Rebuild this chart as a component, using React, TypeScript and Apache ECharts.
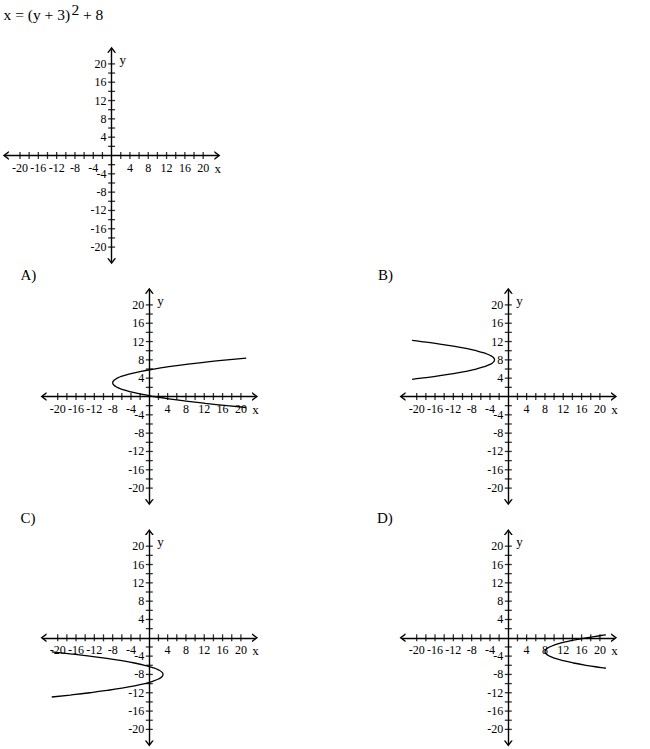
import { useEffect, useRef } from "react";
import * as echarts from "echarts";

// ---- data ----
const tickValues = [-20, -18, -16, -14, -12, -10, -8, -6, -4, -2, 2, 4, 6, 8, 10, 12, 14, 16, 18, 20];
const labelValues = [-20, -16, -12, -8, -4, 4, 8, 12, 16, 20];
const titleMain = "x = (y + 3)";
const titleExp = "2";
const titleTail = " + 8";
const choiceLetters = ["A)", "B)", "C)", "D)"];

// [x, y] points
const curveA: [number, number][] = [
  [21.16, -2.4], [17, -2], [12.25, -1.5], [8, -1], [4.25, -0.5], [1, 0], [-1.75, 0.5], [-4, 1],
  [-5.75, 1.5], [-7, 2], [-7.75, 2.5], [-8, 3], [-7.75, 3.5], [-7, 4], [-5.75, 4.5], [-4, 5],
  [-1.75, 5.5], [1, 6], [4.25, 6.5], [8, 7], [12.25, 7.5], [17, 8], [21.16, 8.4],
];
const curveB: [number, number][] = [
  [-21, 3.76], [-19, 4], [-15.25, 4.5], [-12, 5], [-9.25, 5.5], [-7, 6], [-5.25, 6.5], [-4, 7],
  [-3.25, 7.5], [-3, 8], [-3.25, 8.5], [-4, 9], [-5.25, 9.5], [-7, 10], [-9.25, 10.5], [-12, 11],
  [-15.25, 11.5], [-19, 12], [-21, 12.24],
];
const curveC: [number, number][] = [
  [-21.3, -3.07], [-17.25, -3.5], [-13, -4], [-9.25, -4.5], [-6, -5], [-3.25, -5.5], [-1, -6],
  [0.75, -6.5], [2, -7], [2.75, -7.5], [3, -8], [2.75, -8.5], [2, -9], [0.75, -9.5], [-1, -10],
  [-3.25, -10.5], [-6, -11], [-9.25, -11.5], [-13, -12], [-17.25, -12.5], [-21.3, -12.93],
];
const curveD: [number, number][] = [
  [21.3, 0.65], [20.25, 0.5], [17, 0], [14.25, -0.5], [12, -1], [10.25, -1.5], [9, -2], [8.25, -2.5],
  [8, -3], [8.25, -3.5], [9, -4], [10.25, -4.5], [12, -5], [14.25, -5.5], [17, -6], [20.25, -6.5],
  [21.3, -6.65],
];

// ---- layout ----
const UNIT = 4.58;
const LIM = 23.1;
const HALF = LIM * UNIT;
const FONT = "'Liberation Serif', 'Times New Roman', serif";

const panels = [
  { ox: 111.6, oy: 155.5, curve: null as null | [number, number][], label: null as null | string, lx: 0, ly: 0 },
  { ox: 149.3, oy: 396.5, curve: curveA, label: choiceLetters[0], lx: 20.5, ly: 275 },
  { ox: 508.3, oy: 396.5, curve: curveB, label: choiceLetters[1], lx: 378, ly: 275 },
  { ox: 149.3, oy: 637.8, curve: curveC, label: choiceLetters[2], lx: 20.5, ly: 517.5 },
  { ox: 508.3, oy: 637.8, curve: curveD, label: choiceLetters[3], lx: 377, ly: 517.5 },
];

const ARROW = "path://M0,6 L4.5,0 L9,6 L7.3,6 L4.5,2.3 L1.7,6 Z";

export default function App() {
  const ref = useRef<HTMLDivElement>(null);
  useEffect(() => {
    if (!ref.current) return;
    const chart = echarts.init(ref.current, undefined, { renderer: "svg" });

    const grid: any[] = [];
    const xAxis: any[] = [];
    const yAxis: any[] = [];
    const series: any[] = [];
    const graphic: any[] = [];

    const axisCommon = (idx: number) => ({
      gridIndex: idx,
      type: "value",
      min: -LIM,
      max: LIM,
      offset: -HALF,
      axisLine: {
        show: true,
        onZero: false,
        symbol: [ARROW, ARROW],
        symbolSize: [9, 6],
        lineStyle: { color: "#000", width: 1.4 },
      },
      axisTick: { show: false },
      splitLine: { show: false },
      axisLabel: {
        customValues: labelValues,
        color: "#000",
        fontFamily: FONT,
        fontSize: 12,
      },
    });

    panels.forEach((p, i) => {
      grid.push({ left: p.ox - HALF, top: p.oy - HALF, width: 2 * HALF, height: 2 * HALF, containLabel: false });
      const xa: any = axisCommon(i);
      xa.position = "bottom";
      xa.axisLabel.margin = 6;
      xAxis.push(xa);
      const ya: any = axisCommon(i);
      ya.position = "left";
      ya.axisLabel.margin = 5;
      yAxis.push(ya);

      series.push({
        type: "scatter",
        xAxisIndex: i,
        yAxisIndex: i,
        symbol: "rect",
        symbolSize: [1.3, 7],
        itemStyle: { color: "#000" },
        silent: true,
        z: 3,
        data: tickValues.map((v) => [v, 0]),
      });
      series.push({
        type: "scatter",
        xAxisIndex: i,
        yAxisIndex: i,
        symbol: "rect",
        symbolSize: [7, 1.3],
        itemStyle: { color: "#000" },
        silent: true,
        z: 3,
        data: tickValues.map((v) => [0, v]),
      });
      if (p.curve) {
        series.push({
          type: "line",
          xAxisIndex: i,
          yAxisIndex: i,
          data: p.curve,
          smooth: true,
          showSymbol: false,
          clip: false,
          silent: true,
          z: 4,
          lineStyle: { color: "#000", width: 1.3 },
        });
      }

      graphic.push({
        type: "text",
        x: p.ox + 103,
        y: p.oy + 13,
        style: { text: "x", fill: "#000", font: `13px ${FONT}`, verticalAlign: "middle", align: "left" },
      });
      graphic.push({
        type: "text",
        x: p.ox + 8,
        y: p.oy - 96,
        style: { text: "y", fill: "#000", font: `13px ${FONT}`, verticalAlign: "middle", align: "left" },
      });
      if (p.label) {
        graphic.push({
          type: "text",
          x: p.lx,
          y: p.ly,
          style: { text: p.label, fill: "#000", font: `15px ${FONT}`, verticalAlign: "middle", align: "left" },
        });
      }
    });

    graphic.push({
      type: "text",
      x: 3.5,
      y: 14.5,
      style: { text: titleMain, fill: "#000", font: `15.5px ${FONT}`, verticalAlign: "middle", align: "left" },
    });
    graphic.push({
      type: "text",
      x: 71.5,
      y: 9.5,
      style: { text: titleExp, fill: "#000", font: `15.5px ${FONT}`, verticalAlign: "middle", align: "left" },
    });
    graphic.push({
      type: "text",
      x: 79,
      y: 14.5,
      style: { text: titleTail, fill: "#000", font: `15.5px ${FONT}`, verticalAlign: "middle", align: "left" },
    });

    chart.setOption({
      animation: false,
      backgroundColor: "#fff",
      grid,
      xAxis,
      yAxis,
      series,
      graphic,
    });
    return () => chart.dispose();
  }, []);

  return (
    <div
      ref={ref}
      style={{ position: "absolute", left: 0, top: 0, width: 650, height: 749, background: "#fff" }}
    />
  );
}
